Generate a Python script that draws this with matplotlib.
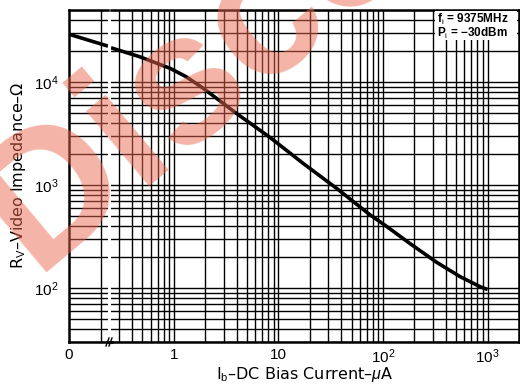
import matplotlib
matplotlib.use('Agg')
import matplotlib.pyplot as plt
from matplotlib.ticker import LogLocator, FixedLocator, FixedFormatter, NullFormatter
from matplotlib.lines import Line2D
from matplotlib.patches import Rectangle

plt.rcParams['font.family'] = ['Liberation Sans', 'DejaVu Sans']
plt.rcParams['mathtext.fontset'] = 'custom'
plt.rcParams['mathtext.rm'] = 'Liberation Sans'
plt.rcParams['mathtext.it'] = 'Liberation Sans:italic'
plt.rcParams['mathtext.bf'] = 'Liberation Sans:bold'

# ---- data ----
bias_zero = [0.0, 0.12]            # uA, left (linear) segment near zero bias
rv_zero = [29200, 22300]           # ohm
bias = [0.25, 0.47, 0.916, 1.3, 1.91, 3.95, 8.3, 17.2, 36, 75, 104, 180, 326, 548, 854, 1000]
rv = [21500, 17600, 13600, 11300, 8690, 4970, 2900, 1625, 929, 515, 409, 272, 178, 129, 103, 97]
x_ticks = [1, 10, 100, 1000]
x_tick_labels = ['1', '10', '$10^2$', '$10^3$']
y_ticks = [100, 1000, 10000]
y_tick_labels = ['$10^2$', '$10^3$', '$10^4$']
x_label = 'I$_\\mathrm{b}$\u2013DC Bias Current\u2013$\\mu$A'
y_label = 'R$_\\mathrm{V}$\u2013Video Impedance\u2013\u03a9'
cond_lines = ['f$_\\mathrm{i}$ = 9375MHz', 'P$_\\mathrm{i}$ = \u221230dBm']
watermark = 'Discontinued'

W, H = 520, 386
fig = plt.figure(figsize=(W / 100, H / 100), dpi=100)


def fx(px):
    return px / W


def fy(py):
    return 1 - py / H


top_px, bot_px = 10, 342
hgt = (bot_px - top_px) / H
axL = fig.add_axes([fx(68.5), fy(bot_px), fx(108) - fx(68.5), hgt])
axR = fig.add_axes([fx(111), fy(bot_px), fx(519) - fx(111), hgt])

GRID = dict(color='black', lw=1.0)
for ax in (axL, axR):
    ax.set_yscale('log')
    ax.set_ylim(30, 50000)
    ax.yaxis.set_major_locator(FixedLocator(y_ticks))
    ax.yaxis.set_minor_locator(LogLocator(base=10, subs=range(2, 10), numticks=20))
    ax.yaxis.set_minor_formatter(NullFormatter())
    ax.grid(True, which='both', axis='y', **GRID)
    ax.tick_params(which='both', length=0)
    for s in ax.spines.values():
        s.set_linewidth(1.8)

axL.yaxis.set_major_formatter(FixedFormatter(y_tick_labels))
axL.tick_params(axis='y', labelsize=11, pad=7)
axR.tick_params(axis='y', labelleft=False)

axL.set_xlim(0, 0.12)
axL.xaxis.set_major_locator(FixedLocator([0]))
axL.xaxis.set_major_formatter(FixedFormatter(['0']))
axL.xaxis.set_minor_locator(FixedLocator([0.1]))
axL.grid(True, which='minor', axis='x', **GRID)
axL.spines['right'].set_visible(False)

axR.set_xscale('log')
axR.set_xlim(0.25, 2000)
axR.xaxis.set_major_locator(FixedLocator(x_ticks))
axR.xaxis.set_major_formatter(FixedFormatter(x_tick_labels))
axR.xaxis.set_minor_locator(LogLocator(base=10, subs=range(2, 10), numticks=20))
axR.xaxis.set_minor_formatter(NullFormatter())
axR.grid(True, which='both', axis='x', **GRID)
axR.spines['left'].set_visible(False)

for ax in (axL, axR):
    ax.tick_params(axis='x', labelsize=11, pad=4)

axL.plot(bias_zero, rv_zero, color='black', lw=2.6, solid_capstyle='butt', zorder=3)
axR.plot(bias, rv, color='black', lw=2.6, solid_capstyle='butt',
         solid_joinstyle='round', zorder=3)

# axis titles
fig.text(fx(305), fy(375), x_label, ha='center', va='center', fontsize=11.5,
         family=['DejaVu Sans'])
fig.text(fx(19), fy(175), y_label, ha='center', va='center', rotation=90, fontsize=11.5,
         family=['DejaVu Sans'])

# condition box
axR.add_patch(Rectangle((fx(435), fy(40)), fx(517) - fx(435), (40 - 11) / H,
                        transform=fig.transFigure, facecolor='white', edgecolor='none',
                        zorder=4, clip_on=False))
for i, t in enumerate(cond_lines):
    fig.text(fx(437), fy(19 + 14 * i), t, ha='left', va='center', fontsize=8.5,
             fontweight='bold', zorder=5)

# break marks on x axis
fig.lines.append(Line2D([fx(107), fx(112)], [fy(bot_px), fy(bot_px)], color='black',
                        lw=1.8, transform=fig.transFigure))
for dx in (0, 3):
    fig.lines.append(Line2D([fx(106 + dx), fx(109 + dx)], [fy(346), fy(338)], color='black',
                            lw=1.0, transform=fig.transFigure))

# watermark
fig.text(fx(34), fy(272), watermark, rotation=40, rotation_mode='anchor',
         ha='left', va='baseline', fontsize=134, fontweight='bold',
         color='#ec6a50', alpha=0.5, zorder=20)

fig.savefig('out.png', dpi=100)
